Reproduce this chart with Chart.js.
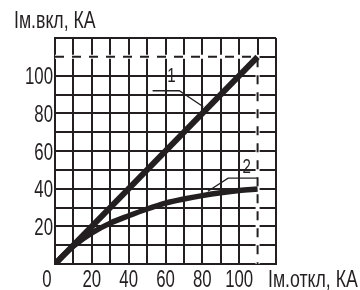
<!DOCTYPE html>
<html><head><meta charset="utf-8">
<script src="https://cdn.jsdelivr.net/npm/chart.js@4"></script>
<style>html,body{margin:0;padding:0;background:#fff}#w{width:360px;height:290px}</style>
</head><body><div id="w"><canvas id="c" width="360" height="290"></canvas></div>
<script>
// data
const xValues1 = [0, 110];
const yValues1 = [0, 110];
const xValues2 = [0, 5, 10, 20, 30, 40, 50, 60, 70, 80, 90, 100, 110];
const yValues2 = [0, 5, 9.5, 16.5, 21.7, 25.6, 29.2, 32.3, 34.5, 36.3, 37.8, 39, 39.8];
const limitX = [0, 110, 110];
const limitY = [110, 110, 0];
const xTickLabels = [0, 20, 40, 60, 80, 100];
const yTickLabels = [20, 40, 60, 80, 100];
const curveNames = ['1', '2'];
const leader1X = [53, 67.5, 80.5];
const leader1Y = [92, 92, 83.5];
const leader2X = [110, 94, 83];
const leader2Y = [45.6, 45.6, 38.6];
const nameX = [63.2, 104.1];
const nameY = [100.4, 52.4];
const yTitle = 'Iм.вкл, КА';
const xTitle = 'Iм.откл, КА';

const INK = '#231f20';
const FONT = "'Liberation Sans', Arial, sans-serif";
const pts = (xs, ys) => xs.map((x, i) => ({x, y: ys[i]}));

function narrowText(ctx, text, x, y, size, sx, align) {
  ctx.save();
  ctx.translate(x, y);
  ctx.scale(sx, 1);
  ctx.font = size + 'px ' + FONT;
  ctx.textAlign = align;
  ctx.textBaseline = 'alphabetic';
  ctx.fillText(text, 0, 0);
  ctx.restore();
}

const textPlugin = {
  id: 'texts',
  afterDraw(chart) {
    const {ctx, scales} = chart;
    const xs = scales.x, ys = scales.y;
    ctx.save();
    ctx.fillStyle = INK;
    narrowText(ctx, yTitle, 14, 28, 23, 0.77, 'left');
    narrowText(ctx, xTitle, 268, 287, 23, 0.77, 'left');
    xTickLabels.forEach(v => {
      const off = v === 0 ? -8 : 0;
      narrowText(ctx, String(v), xs.getPixelForValue(v) + off, 287, 24, 0.70, 'center');
    });
    yTickLabels.forEach(v => {
      narrowText(ctx, String(v), 53, ys.getPixelForValue(v) + 8.5, 24, 0.70, 'right');
    });
    curveNames.forEach((n, i) => {
      narrowText(ctx, n, xs.getPixelForValue(nameX[i]), ys.getPixelForValue(nameY[i]) + 7.5, 21, 0.72, 'center');
    });
    ctx.restore();
  }
};

new Chart(document.getElementById('c'), {
  type: 'line',
  data: {
    datasets: [
      {data: pts(limitX, limitY), borderColor: '#ffffff', borderWidth: 4, pointRadius: 0, order: 5},
      {data: pts(limitX, limitY), borderColor: INK, borderWidth: 2, borderDash: [9, 8], pointRadius: 0, order: 4},
      {data: pts(leader1X, leader1Y), borderColor: INK, borderWidth: 1.3, pointRadius: 0, order: 3},
      {data: pts(leader2X, leader2Y), borderColor: INK, borderWidth: 1.3, pointRadius: 0, order: 3},
      {data: pts(xValues1, yValues1), borderColor: INK, borderWidth: 6, pointRadius: 0, order: 1},
      {data: pts(xValues2, yValues2), borderColor: INK, borderWidth: 5.5, pointRadius: 0, cubicInterpolationMode: 'monotone', order: 1}
    ]
  },
  options: {
    responsive: false,
    animation: false,
    parsing: false,
    layout: {padding: {left: 0, top: 38, right: 84, bottom: 0}},
    plugins: {legend: {display: false}, tooltip: {enabled: false}},
    scales: {
      x: {
        type: 'linear', min: 0, max: 120,
        afterFit(s) { s.height = 26; },
        border: {color: INK, width: 2},
        grid: {color: INK, lineWidth: 2, drawTicks: false},
        ticks: {stepSize: 10, autoSkip: false, maxRotation: 0, display: false}
      },
      y: {
        type: 'linear', min: 0, max: 120,
        afterFit(s) { s.width = 55; },
        border: {color: INK, width: 2},
        grid: {color: INK, lineWidth: 2, drawTicks: false},
        ticks: {stepSize: 10, autoSkip: false, display: false}
      }
    }
  },
  plugins: [textPlugin]
});
</script>
</body></html>
